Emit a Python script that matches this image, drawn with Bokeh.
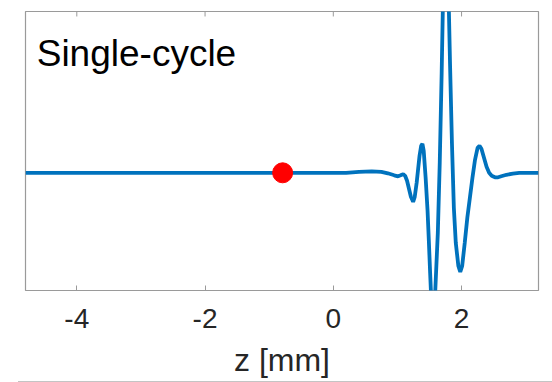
from bokeh.plotting import figure
from bokeh.models import Range1d, LinearAxis, FixedTicker, Label, Div
from bokeh.layouts import column
from bokeh.embed import file_html
from bokeh.resources import INLINE

# Field profile along z (mm), arbitrary amplitude units
z_mm = [-4.8, -3.0, -1.0, 0.0, 0.2, 0.4, 0.6, 0.75, 0.85, 0.95, 1.01, 1.05,
        1.09, 1.12, 1.15, 1.18, 1.21, 1.245, 1.27, 1.30, 1.32, 1.345, 1.37,
        1.39, 1.41, 1.44, 1.47, 1.49, 1.51, 1.53, 1.55, 1.57, 1.59, 1.63,
        1.66, 1.69, 1.71, 1.735, 1.755, 1.775, 1.80, 1.82, 1.85, 1.88, 1.91,
        1.95, 1.98, 2.01, 2.05, 2.09, 2.13, 2.17, 2.21, 2.25, 2.28, 2.31,
        2.35, 2.39, 2.43, 2.47, 2.52, 2.57, 2.62, 2.70, 2.80, 2.90, 3.2]
field = [0.0, 0.0, 0.0, 0.0, 0.0, 0.01, 0.015, 0.01, -0.005, -0.025, -0.035,
         -0.025, -0.013, -0.03, -0.08, -0.16, -0.24, -0.29, -0.24, -0.10,
         0.02, 0.17, 0.27, 0.29, 0.22, -0.05, -0.38, -0.68, -1.0, -1.3, -1.4,
         -1.33, -1.18, -0.6, 0.1, 1.0, 1.7, 2.2, 2.35, 2.2, 1.7, 1.1, 0.3,
         -0.35, -0.7, -0.93, -0.99, -0.93, -0.7, -0.45, -0.25, -0.05, 0.13,
         0.25, 0.27, 0.24, 0.15, 0.06, 0.0, -0.03, -0.045, -0.045, -0.035,
         -0.02, -0.008, 0.0, 0.0]

# Marker position
marker_z = [-0.79]
marker_field = [0.0]

x_ticks = [-4, -2, 0, 2]
x_tick_labels = ["-4", "-2", "0", "2"]
x_limits = (-4.8, 3.2)
y_limits = (-1.177, 1.613)
title_text = "Single-cycle"
x_label = "z [mm]"

FONT = "Liberation Sans"
BOX = "#9a9a9a"

p = figure(width=552, height=381, output_backend="svg", toolbar_location=None,
           x_range=Range1d(*x_limits), y_range=Range1d(*y_limits),
           min_border_left=25, min_border_right=14, min_border_top=11,
           min_border_bottom=91, x_axis_location=None, y_axis_location=None)
p.grid.visible = False
p.outline_line_color = BOX
p.outline_line_width = 1.2
p.background_fill_color = "white"
p.border_fill_color = "white"

bottom = LinearAxis(ticker=FixedTicker(ticks=x_ticks))
bottom.axis_line_color = None
bottom.major_tick_in = 5
bottom.major_tick_out = 0
bottom.major_tick_line_color = BOX
bottom.minor_tick_line_color = None
bottom.major_label_overrides = dict(zip(x_ticks, x_tick_labels))
bottom.major_label_text_font = FONT
bottom.major_label_text_font_size = "28px"
bottom.major_label_text_color = "#262626"
bottom.major_label_standoff = 18
bottom.axis_label = x_label
bottom.axis_label_text_font = FONT
bottom.axis_label_text_font_size = "32px"
bottom.axis_label_text_font_style = "normal"
bottom.axis_label_text_color = "#262626"
bottom.axis_label_standoff = 11
p.add_layout(bottom, "below")

# inward tick marks along the top edge of the box
tick_len = 0.05 * (y_limits[1] - y_limits[0]) / 2.8
p.segment(x0=x_ticks, y0=[y_limits[1]] * len(x_ticks),
          x1=x_ticks, y1=[y_limits[1] - tick_len] * len(x_ticks),
          line_color=BOX, line_width=1)

p.line(z_mm, field, line_color="#0072BD", line_width=3.8)
p.scatter(marker_z, marker_field, size=20, fill_color="#ff0000",
          line_color="#ff0000")

p.add_layout(Label(x=-4.625, y=1.19, text=title_text, text_font=FONT,
                   text_font_size="37px", text_color="black",
                   text_baseline="alphabetic", text_align="left"))

rule = Div(text="", width=534, height=1, margin=(0, 0, 0, 18),
           styles={"background-color": "#c4c4c4"})

layout = column(p, rule, spacing=0)

open("out.html", "w").write(file_html(layout, INLINE))
